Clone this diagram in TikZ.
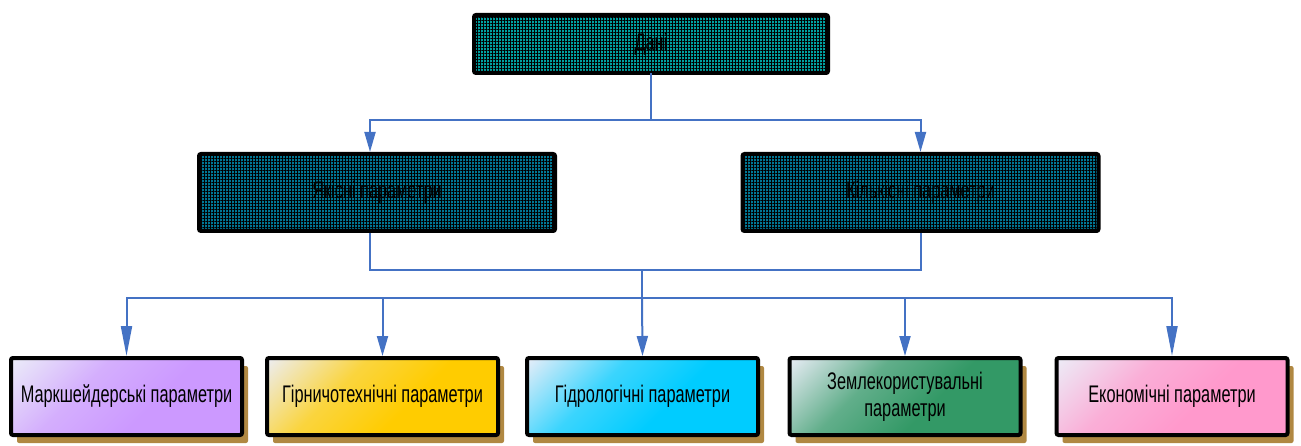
\documentclass[tikz,border=0pt]{standalone}
\usepackage{fontspec}
\setmainfont{Liberation Sans}[FakeStretch=0.68]
\usetikzlibrary{arrows.meta,patterns.meta,shadows}

\definecolor{conn}{RGB}{68,114,196}
\definecolor{shadowc}{RGB}{176,136,66}
\definecolor{topbase}{RGB}{0,160,160}
\definecolor{midbase}{RGB}{0,118,148}
\definecolor{paleface}{RGB}{236,238,248}
\definecolor{lavender}{RGB}{204,153,255}
\definecolor{gold}{RGB}{255,204,0}
\definecolor{skyc}{RGB}{0,204,255}
\definecolor{seag}{RGB}{51,153,102}
\definecolor{pinkc}{RGB}{255,153,204}
\colorlet{leafc}{lavender}

% pale in one corner, full colour over most of the box
\pgfdeclareverticalshading[leafc]{leafshade}{100bp}{%
  color(0bp)=(leafc); color(42bp)=(leafc); color(62bp)=(leafc!75!paleface);
  color(86bp)=(paleface); color(100bp)=(paleface)}

\tikzset{
  txt/.style={font=\fontsize{24}{27}\selectfont, text=black, align=center},
  hatchbox/.style={txt, draw=black, line width=4pt, rounded corners=2pt,
    preaction={fill=#1},
    pattern={Hatch[angle=0,distance=3pt,line width=0.9pt]}, pattern color=black},
  topbox/.style={hatchbox=topbase, minimum width=354pt, minimum height=58pt},
  midbox/.style={hatchbox=midbase, minimum width=356pt, minimum height=77pt},
  leafbox/.style={txt, draw=black, line width=4pt, rounded corners=2pt,
    minimum width=231pt, minimum height=77pt,
    drop shadow={shadow xshift=6pt, shadow yshift=-8pt, fill=shadowc, opacity=1},
    /utils/exec={\colorlet{leafc}{#1}},
    shade, shading=leafshade, shading angle=45},
  link/.style={draw=conn, line width=2pt},
  arr/.style={link, -{Triangle[length=20pt,width=11pt]}},
  arrlong/.style={link, -{Triangle[length=30pt,width=11pt]}}
}

\begin{document}
\begin{tikzpicture}[x=1pt,y=-1pt]
  \useasboundingbox (0,0) rectangle (1301,446);

  % upper levels
  \node[topbox] (data) at (651,44) {Дані};
  \node[midbox] (qual) at (377,192.5) {Якісні параметри};
  \node[midbox] (quant) at (920.5,192.5) {Кількісні параметри};

  % parameter groups
  \node[leafbox=lavender] (b1) at (126.5,396.5) {Маркшейдерські параметри};
  \node[leafbox=gold] (b2) at (382.5,396.5) {Гірничотехнічні параметри};
  \node[leafbox=skyc] (b3) at (642.5,396.5) {Гідрологічні параметри};
  \node[leafbox=seag] (b4) at (905,396.5) {Землекористувальні\\параметри};
  \node[leafbox=pinkc] (b5) at (1172,396.5) {Економічні параметри};

  % junction points
  \coordinate (j1) at (651,120);
  \coordinate (j2) at (642,270);
  \coordinate (j3) at (642,298);

  % connectors
  \draw[link] (data.south) -- (j1);
  \draw[arr] (j1) -| ([xshift=-7pt]qual.north);
  \draw[arr] (j1) -| (quant.north);

  \draw[link] ([xshift=-7pt]qual.south) |- (j2);
  \draw[link] (quant.south) |- (j2);
  \draw[link] (j2) -- (j3);

  \draw[arrlong] (j3) -| (b1.north);
  \draw[arr] (j3) -| (b2.north);
  \draw[arr] (j3) -- (b3.north);
  \draw[arr] (j3) -| (b4.north);
  \draw[arrlong] (j3) -| (b5.north);
\end{tikzpicture}
\end{document}
